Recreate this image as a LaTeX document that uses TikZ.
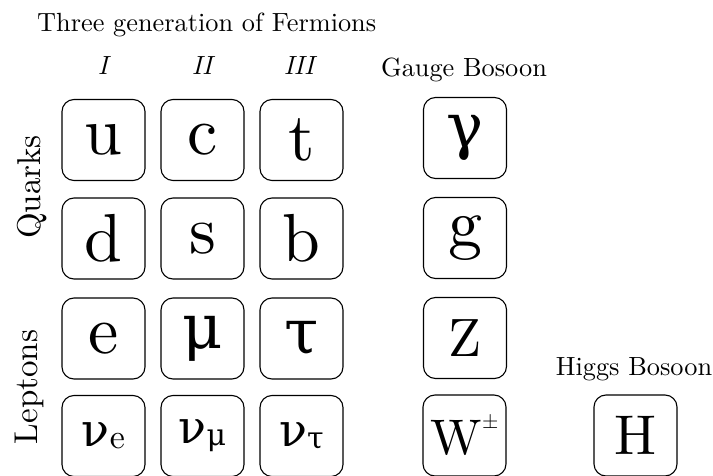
\documentclass[tikz,border=0pt]{standalone}
\usepackage{fontspec}
\setmainfont{lmroman10-regular.otf}[ItalicFont=lmroman10-italic.otf]
\newfontfamily\grk{DejaVu Serif}
\tikzset{
  pbox/.style={draw, line width=1.1pt, rounded corners=12pt, minimum width=83pt, minimum height=81pt, inner sep=0pt},
  lat/.style={font=\fontsize{68}{68}\selectfont},
  grkbig/.style={font=\grk\fontsize{62}{62}\selectfont},
  capletter/.style={font=\fontsize{54}{54}\selectfont},
  lbl/.style={font=\fontsize{26.3}{27}\selectfont, inner sep=0pt},
  romnum/.style={font=\itshape\fontsize{26.3}{27}\selectfont, inner sep=0pt},
  side/.style={font=\fontsize{33}{33}\selectfont, inner sep=0pt, rotate=90}
}
\newcommand{\nusub}[1]{{\grk\fontsize{46}{46}\selectfont ν}\raisebox{-2pt}{\fontsize{34}{34}\selectfont #1}}
\newcommand{\nusubg}[1]{{\grk\fontsize{46}{46}\selectfont ν}\raisebox{-2pt}{\grk\fontsize{30}{30}\selectfont #1}}
\begin{document}
\begin{tikzpicture}[x=1pt,y=-1pt]
\useasboundingbox (0,0) rectangle (713,476);
% labels
\node[lbl, anchor=base west] (title) at (37,32) {Three generation of Fermions};
\node[romnum, anchor=base] (g1) at (103,75) {I};
\node[romnum, anchor=base] (g2) at (202,75) {II};
\node[romnum, anchor=base] (g3) at (299,75) {III};
\node[lbl, anchor=base] (gauge) at (464,77) {Gauge Bosoon};
\node[lbl, anchor=base] (higgs) at (634,375) {Higgs Bosoon};
\node[side, anchor=base] (quarks) at (40,187) {Quarks};
\node[side, anchor=base] (leptons) at (37,387) {Leptons};
% row 1
\node[pbox, lat] (u) at (103.5,140) {u};
\node[pbox, lat] (c) at (202.5,140) {c};
\node[pbox, lat] (t) at (301.5,140) {t};
\node[pbox, grkbig] (gamma) at (465,138) {γ};
% row 2
\node[pbox, lat] (d) at (103.5,238.5) {d};
\node[pbox, lat] (s) at (202.5,238.5) {s};
\node[pbox, lat] (b) at (301.5,238.5) {b};
\node[pbox, lat] (g) at (465,238) {g};
% row 3
\node[pbox, lat] (e) at (103.5,338.5) {e};
\node[pbox, grkbig] (mu) at (202.5,338.5) {μ};
\node[pbox, grkbig] (tau) at (301.5,338.5) {τ};
\node[pbox, capletter] (Z) at (465,338) {Z};
% row 4
\node[pbox] (nue) at (103.5,436) {\nusub{e}};
\node[pbox] (numu) at (202.5,436) {\nusubg{μ}};
\node[pbox] (nutau) at (301.5,436) {\nusubg{τ}};
\node[pbox] (W) at (464.5,435.5) {\fontsize{50}{50}\selectfont W\raisebox{26pt}{\fontsize{21}{21}\selectfont ±}};
\node[pbox, font=\fontsize{56}{56}\selectfont] (H) at (635.5,435.5) {H};
\end{tikzpicture}
\end{document}
